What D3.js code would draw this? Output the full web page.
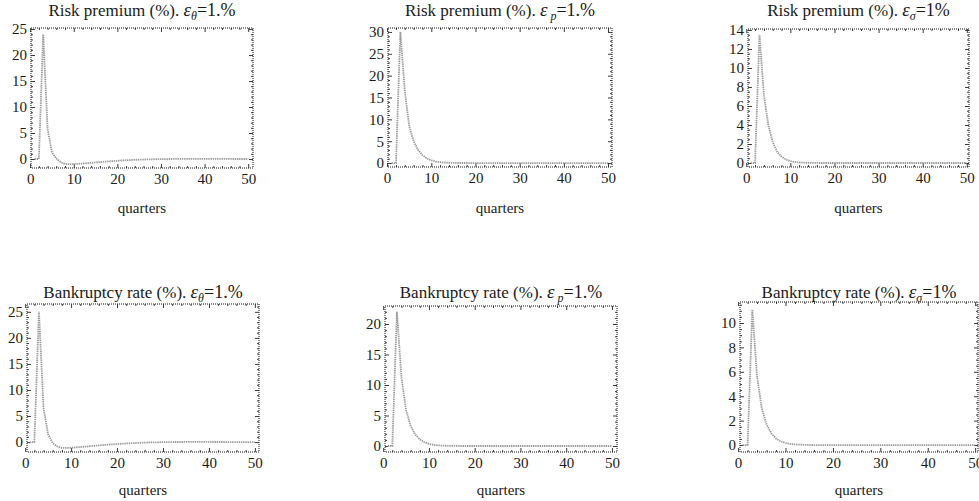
<!DOCTYPE html>
<html>
<head>
<meta charset="utf-8">
<script src="https://cdn.jsdelivr.net/npm/d3@7"></script>
<style>
  html, body { margin: 0; padding: 0; background: #fff; }
  svg { display: block; }
  text { font-family: "Liberation Serif", "Times New Roman", serif; fill: #1a1a1a; }
</style>
</head>
<body>
<svg id="chart" width="979" height="501"></svg>
<script>
// ---------------- DATA ----------------
const quarters = [1,2,3,4,5,6,7,8,9,10,11,12,13,14,15,16,17,18,19,20,
  21,22,23,24,25,26,27,28,29,30,31,32,33,34,35,36,37,38,39,40,
  41,42,43,44,45,46,47,48,49,50];

const riskPremiumTheta = [0,0,24,5.8,1.3,0.1,-0.6,-0.95,-1.0,-0.98,
  -0.93,-0.87,-0.8,-0.73,-0.66,-0.59,-0.52,-0.46,-0.4,-0.34,
  -0.29,-0.24,-0.2,-0.16,-0.13,-0.1,-0.07,-0.05,-0.03,-0.02,
  -0.01,0,0.01,0.01,0.02,0.02,0.02,0.02,0.02,0.02,
  0.02,0.01,0.01,0.01,0.01,0.01,0,0,0,0];

const riskPremiumP = [0,0,30,16.5,8.5,5,3,1.8,1.05,0.62,
  0.36,0.21,0.12,0.07,0.04,0.02,0.01,0.01,0,0,
  0,0,0,0,0,0,0,0,0,0,
  0,0,0,0,0,0,0,0,0,0,
  0,0,0,0,0,0,0,0,0,0];

const riskPremiumSigma = [0,0,13.5,7.2,4,2.2,1.2,0.67,0.37,0.2,
  0.11,0.06,0.03,0.02,0.01,0.01,0,0,0,0,
  0,0,0,0,0,0,0,0,0,0,
  0,0,0,0,0,0,0,0,0,0,
  0,0,0,0,0,0,0,0,0,0];

const bankruptcyTheta = [0,0,25,6.5,1.5,-0.2,-0.85,-1.1,-1.12,-1.08,
  -1.02,-0.95,-0.88,-0.8,-0.72,-0.64,-0.57,-0.5,-0.43,-0.37,
  -0.31,-0.26,-0.21,-0.17,-0.13,-0.1,-0.07,-0.05,-0.03,-0.01,
  0,0.01,0.02,0.02,0.03,0.03,0.03,0.03,0.03,0.03,
  0.02,0.02,0.02,0.01,0.01,0.01,0.01,0,0,0];

const bankruptcyP = [0,0,22,11.2,5.9,3.3,1.9,1.1,0.62,0.35,
  0.2,0.11,0.06,0.03,0.02,0.01,0,0,0,0,
  0,0,0,0,0,0,0,0,0,0,
  0,0,0,0,0,0,0,0,0,0,
  0,0,0,0,0,0,0,0,0,0];

const bankruptcySigma = [0,0,11.1,5.6,3.0,1.7,0.95,0.53,0.3,0.17,
  0.09,0.05,0.03,0.02,0.01,0,0,0,0,0,
  0,0,0,0,0,0,0,0,0,0,
  0,0,0,0,0,0,0,0,0,0,
  0,0,0,0,0,0,0,0,0,0];

const xTickLabels = [0,10,20,30,40,50];
const yTicksRPTheta = [0,5,10,15,20,25];
const yTicksRPP = [0,5,10,15,20,25,30];
const yTicksRPSigma = [0,2,4,6,8,10,12,14];
const yTicksBRTheta = [0,5,10,15,20,25];
const yTicksBRP = [0,5,10,15,20];
const yTicksBRSigma = [0,2,4,6,8,10];

const xAxisLabel = "quarters";
// title parts: [prefix, subscript, suffix]
const titleRPTheta = ["Risk premium (%). ", "θ", "=1.%"];
const titleRPP = ["Risk premium (%). ", " p", "=1.%"];
const titleRPSigma = ["Risk premium (%). ", "σ", "=1%"];
const titleBRTheta = ["Bankruptcy rate (%). ", "θ", "=1.%"];
const titleBRP = ["Bankruptcy rate (%). ", " p", "=1.%"];
const titleBRSigma = ["Bankruptcy rate (%). ", "σ", "=1%"];

// ---------------- LAYOUT ----------------
const panels = [
  {values: riskPremiumTheta, yTicks: yTicksRPTheta, title: titleRPTheta, yMinorStep: 1,
   fx: [31,253], fy: [28,168], xd: [0.2,51.1], yd: [-1.73,25.2], titleY: 16, labelY: 213},
  {values: riskPremiumP, yTicks: yTicksRPP, title: titleRPP, yMinorStep: 1,
   fx: [388,612], fy: [28,167], xd: [0.2,50.9], yd: [-0.9,30.9], titleY: 16, labelY: 213},
  {values: riskPremiumSigma, yTicks: yTicksRPSigma, title: titleRPSigma, yMinorStep: 0.5,
   fx: [748,969], fy: [29,167], xd: [0.4,50.5], yd: [-0.42,14.1], titleY: 16, labelY: 213},
  {values: bankruptcyTheta, yTicks: yTicksBRTheta, title: titleBRTheta, yMinorStep: 1,
   fx: [27,259], fy: [304,452], xd: [0.4,50.9], yd: [-1.9,26.5], titleY: 298, labelY: 495},
  {values: bankruptcyP, yTicks: yTicksBRP, title: titleBRP, yMinorStep: 1,
   fx: [385,617], fy: [306,452], xd: [0.4,51.1], yd: [-0.98,22.95], titleY: 298, labelY: 495},
  {values: bankruptcySigma, yTicks: yTicksBRSigma, title: titleBRSigma, yMinorStep: 0.5,
   fx: [740,978], fy: [302,452], xd: [0.4,50.6], yd: [-0.57,11.72], titleY: 298, labelY: 495}
];

const svg = d3.select("#chart");

panels.forEach(p => {
  const x = d3.scaleLinear().domain(p.xd).range(p.fx);
  const y = d3.scaleLinear().domain(p.yd).range([p.fy[1], p.fy[0]]);
  const g = svg.append("g");

  const xMinor = d3.range(2, 51, 2).filter(v => v % 10 !== 0);
  const yMax = p.yd[1];
  const yMinor = d3.range(0, yMax, p.yMinorStep).filter(v => !p.yTicks.includes(v));

  // frame
  g.append("rect")
    .attr("x", p.fx[0]).attr("y", p.fy[0])
    .attr("width", p.fx[1] - p.fx[0]).attr("height", p.fy[1] - p.fy[0])
    .attr("fill", "none").attr("stroke", "#111").attr("stroke-width", 1)
    .attr("stroke-dasharray", "1,1");

  const styleAxis = sel => {
    sel.select(".domain").remove();
    sel.selectAll("line").attr("stroke", "#222").attr("stroke-width", 0.9);
    sel.selectAll("text").attr("font-size", 15).attr("fill", "#1a1a1a")
       .attr("font-family", '"Liberation Serif", "Times New Roman", serif');
  };

  // bottom axis with labels
  g.append("g").attr("transform", `translate(0,${p.fy[1]})`)
    .call(d3.axisBottom(x).tickValues(xTickLabels).tickSizeInner(-4).tickSizeOuter(0).tickPadding(5))
    .call(styleAxis);
  g.append("g").attr("transform", `translate(0,${p.fy[1]})`)
    .call(d3.axisBottom(x).tickValues(xMinor).tickSizeInner(-2).tickSizeOuter(0).tickFormat(""))
    .call(styleAxis);
  // top axis ticks (no labels)
  g.append("g").attr("transform", `translate(0,${p.fy[0]})`)
    .call(d3.axisTop(x).tickValues(xTickLabels).tickSizeInner(-4).tickSizeOuter(0).tickFormat(""))
    .call(styleAxis);
  g.append("g").attr("transform", `translate(0,${p.fy[0]})`)
    .call(d3.axisTop(x).tickValues(xMinor).tickSizeInner(-2).tickSizeOuter(0).tickFormat(""))
    .call(styleAxis);

  // left axis with labels
  g.append("g").attr("transform", `translate(${p.fx[0]},0)`)
    .call(d3.axisLeft(y).tickValues(p.yTicks).tickSizeInner(-4).tickSizeOuter(0).tickPadding(4))
    .call(styleAxis);
  g.append("g").attr("transform", `translate(${p.fx[0]},0)`)
    .call(d3.axisLeft(y).tickValues(yMinor).tickSizeInner(-2).tickSizeOuter(0).tickFormat(""))
    .call(styleAxis);
  // right axis ticks
  g.append("g").attr("transform", `translate(${p.fx[1]},0)`)
    .call(d3.axisRight(y).tickValues(p.yTicks).tickSizeInner(-4).tickSizeOuter(0).tickFormat(""))
    .call(styleAxis);
  g.append("g").attr("transform", `translate(${p.fx[1]},0)`)
    .call(d3.axisRight(y).tickValues(yMinor).tickSizeInner(-2).tickSizeOuter(0).tickFormat(""))
    .call(styleAxis);

  // line
  const line = d3.line().x((d, i) => x(quarters[i])).y(d => y(d));
  g.append("path").datum(p.values)
    .attr("d", line)
    .attr("fill", "none")
    .attr("stroke", "#9a9a9a")
    .attr("stroke-width", 1.8)
    .attr("stroke-dasharray", "1.4,0.8");

  // title
  const cx = (p.fx[0] + p.fx[1]) / 2;
  const t = g.append("text").attr("x", cx).attr("y", p.titleY)
    .attr("text-anchor", "middle").attr("font-size", 17);
  t.append("tspan").text(p.title[0]);
  t.append("tspan").attr("font-style", "italic").attr("font-size", 19).text("ε");
  t.append("tspan").attr("font-style", "italic").attr("font-size", 12).attr("dy", 4).text(p.title[1]);
  t.append("tspan").attr("dy", -4).attr("font-size", 18).text(p.title[2]);

  // x label
  g.append("text").attr("x", cx).attr("y", p.labelY)
    .attr("text-anchor", "middle").attr("font-size", 15).text(xAxisLabel);
});
</script>
</body>
</html>
